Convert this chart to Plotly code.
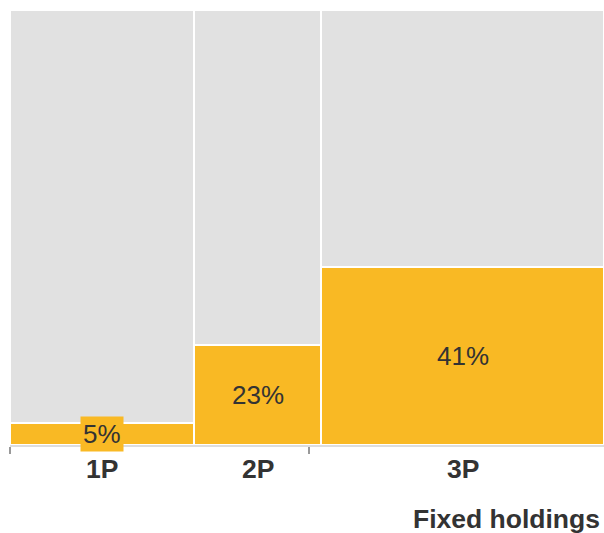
import plotly.graph_objects as go

categories = ["1P", "2P", "3P"]
widths = [30.8, 21.2, 47.3]
values = [5, 23, 41]
labels = ["5%", "23%", "41%"]
total = [100, 100, 100]

lefts = []
acc = 0
for w in widths:
    lefts.append(acc)
    acc += w
centers = [l + w / 2 for l, w in zip(lefts, widths)]

YELLOW = "#F9B924"
GRAY = "#E1E1E1"
TXT = "#333333"
FONT = "Liberation Sans, Arial, sans-serif"

fig = go.Figure()
fig.add_trace(go.Bar(x=centers, y=total, width=widths, marker=dict(color=GRAY, line=dict(color="white", width=2)),
                     hoverinfo="skip", showlegend=False))
fig.add_trace(go.Bar(x=centers, y=values, width=widths, marker=dict(color=YELLOW, line=dict(color="white", width=2)),
                     hoverinfo="skip", showlegend=False))

for c, v, lab in zip(centers, values, labels):
    small = v < 10
    fig.add_annotation(x=c, y=v / 2, xref="x", yref="y", text=lab, showarrow=False,
                       font=dict(family=FONT, size=26, color=TXT),
                       bgcolor=YELLOW if small else None, borderpad=2)

for c, cat in zip(centers, categories):
    fig.add_annotation(x=c, y=0, xref="x", yref="paper", text="<b>%s</b>" % cat, showarrow=False,
                       yanchor="middle", yshift=-24,
                       font=dict(family=FONT, size=26.5, color=TXT))

fig.add_annotation(x=1, y=0, xref="paper", yref="paper", text="<b>Fixed holdings</b>", showarrow=False,
                   xanchor="right", yanchor="middle", xshift=-2, yshift=-74,
                   font=dict(family=FONT, size=26.5, color=TXT))

fig.update_layout(
    width=604, height=533, barmode="overlay", bargap=0,
    margin=dict(l=10, r=0, t=10, b=88),
    paper_bgcolor="white", plot_bgcolor="white",
    xaxis=dict(range=[0, 99.3], tickvals=[0, 50], ticks="outside", ticklen=7, tickwidth=1.5,
               tickcolor="#999999", showticklabels=False, showgrid=False, zeroline=False,
               showline=True, linecolor="#DDDDDD", linewidth=2, fixedrange=True),
    yaxis=dict(range=[0, 100], visible=False, showgrid=False, fixedrange=True),
)

fig.write_html("out.html", config={"displayModeBar": False})
